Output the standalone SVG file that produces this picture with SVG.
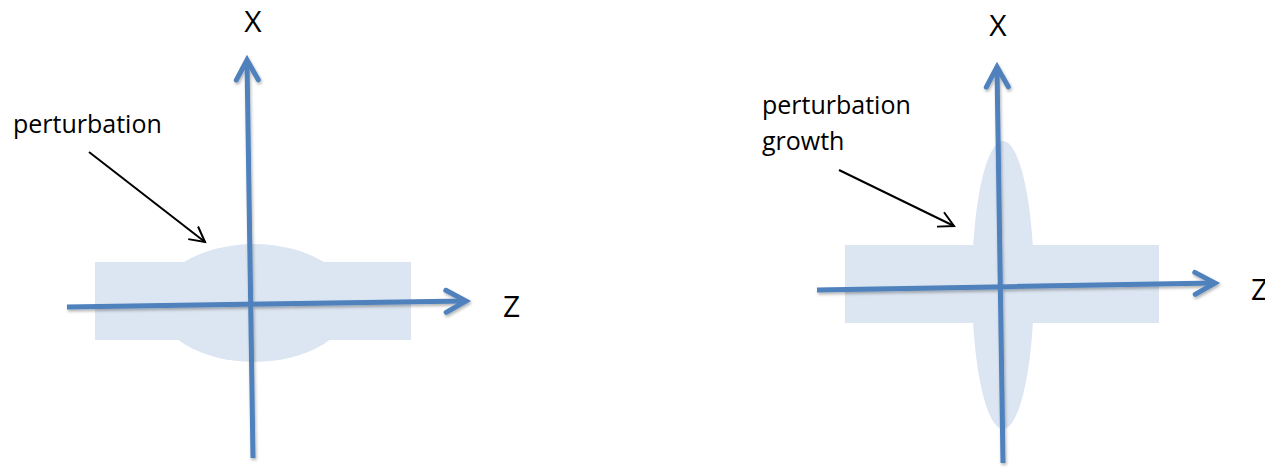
<svg xmlns="http://www.w3.org/2000/svg" width="1265" height="470" viewBox="0 0 1265 470">
  <style>
    .region { fill: #DCE6F2; stroke: none; }
    .axis { fill: none; stroke: #4F81BD; stroke-width: 5; }
    .axes { filter: url(#shadow); }
    .pointer { fill: none; stroke: #000000; stroke-width: 2; }
    .axislabel { font-family: "Open Sans", "Liberation Sans", sans-serif; font-size: 30px; fill: #000000; }
    .label { font-family: "Open Sans", "Liberation Sans", sans-serif; font-size: 25px; fill: #000000; }
  </style>
  <defs>
    <filter id="shadow" filterUnits="userSpaceOnUse" x="0" y="0" width="1265" height="470">
      <feDropShadow dx="1" dy="2" stdDeviation="1.5" flood-color="#000000" flood-opacity="0.3"/>
    </filter>
    <marker id="blueHead" viewBox="-26 -15 32 30" markerWidth="32" markerHeight="30" refX="0" refY="0" orient="auto" markerUnits="userSpaceOnUse">
      <path d="M-20,-11 L0,0 L-20,11" fill="none" stroke="#4F81BD" stroke-width="5" stroke-linecap="round" stroke-linejoin="miter"/>
    </marker>
    <marker id="blackHead" viewBox="-18 -10 22 20" markerWidth="22" markerHeight="20" refX="0" refY="0" orient="auto" markerUnits="userSpaceOnUse">
      <path d="M-15,-8 L0,0 L-15,8" fill="none" stroke="#000000" stroke-width="2" stroke-linejoin="miter"/>
    </marker>
  </defs>

  <!-- Left panel -->
  <g id="left-region">
    <rect class="region" x="95" y="262" width="316" height="78"/>
    <ellipse class="region" cx="254" cy="303" rx="97" ry="59"/>
  </g>
  <g id="left-x-label"><text class="axislabel" x="253" y="32" text-anchor="middle">X</text></g>
  <g id="left-z-label"><text class="axislabel" x="503" y="317">Z</text></g>
  <g id="left-perturbation-label"><text class="label" x="13" y="133">perturbation</text></g>

  <!-- Right panel -->
  <g id="right-region">
    <rect class="region" x="845" y="245" width="314" height="78"/>
    <ellipse class="region" cx="1003" cy="285" rx="31" ry="144"/>
  </g>
  <g id="right-x-label"><text class="axislabel" x="998" y="36" text-anchor="middle">X</text></g>
  <g id="right-z-label"><text class="axislabel" x="1251" y="300">Z</text></g>
  <g id="right-perturbation-label">
    <text class="label" x="762" y="114">perturbation</text>
    <text class="label" x="762" y="150">growth</text>
  </g>

  <!-- Connectors -->
  <g id="connectors">
    <g class="axes">
      <line class="axis" x1="253" y1="458" x2="247" y2="60" marker-end="url(#blueHead)"/>
      <line class="axis" x1="67" y1="307" x2="466" y2="301" marker-end="url(#blueHead)"/>
      <line class="axis" x1="1003" y1="463" x2="997" y2="67" marker-end="url(#blueHead)"/>
      <line class="axis" x1="817" y1="290" x2="1215" y2="283" marker-end="url(#blueHead)"/>
    </g>
    <line class="pointer" x1="89" y1="152" x2="205" y2="242" marker-end="url(#blackHead)"/>
    <line class="pointer" x1="839" y1="170" x2="954" y2="226" marker-end="url(#blackHead)"/>
  </g>
</svg>
